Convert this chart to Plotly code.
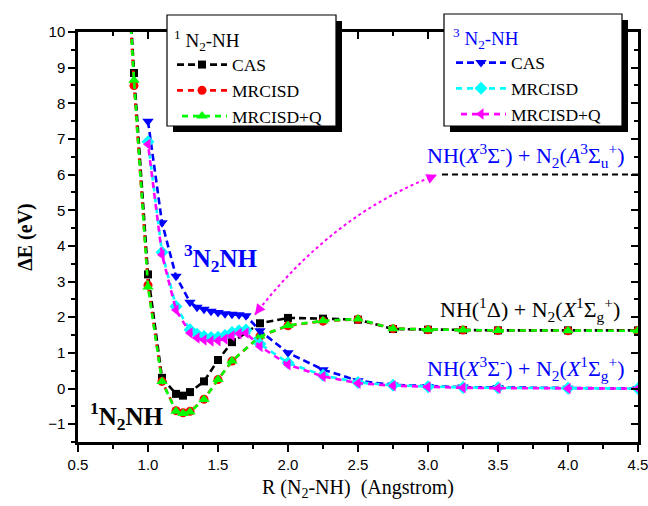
import plotly.graph_objects as go

# ---------------- data ----------------
R_singlet = [0.85, 0.9, 1.0, 1.1, 1.2, 1.25, 1.3, 1.4, 1.5, 1.6, 1.8, 2.0, 2.25, 2.5, 2.75, 3.0, 3.25, 3.5, 4.0, 4.5]
cas_singlet = [12.3, 8.85, 3.2, 0.3, -0.15, -0.2, -0.1, 0.2, 0.8, 1.3, 1.83, 1.98, 1.96, 1.93, 1.67, 1.65, 1.64, 1.63, 1.63, 1.63]
mrci_singlet = [12.0, 8.5, 2.9, 0.2, -0.62, -0.68, -0.64, -0.3, 0.25, 0.77, 1.47, 1.76, 1.89, 1.94, 1.68, 1.65, 1.64, 1.63, 1.62, 1.62]
mrciq_singlet = [12.1, 8.65, 2.85, 0.2, -0.64, -0.7, -0.66, -0.31, 0.25, 0.77, 1.47, 1.77, 1.9, 1.95, 1.68, 1.65, 1.64, 1.63, 1.62, 1.62]

R_triplet = [1.0, 1.1, 1.2, 1.3, 1.35, 1.4, 1.45, 1.5, 1.55, 1.6, 1.65, 1.7, 1.8, 2.0, 2.25, 2.5, 2.75, 3.0, 3.25, 3.5, 4.0, 4.5]
cas_triplet = [7.5, 4.65, 3.15, 2.42, 2.28, 2.22, 2.17, 2.13, 2.1, 2.08, 2.07, 2.04, 1.62, 1.0, 0.53, 0.22, 0.1, 0.06, 0.04, 0.03, 0.01, 0.0]
mrci_triplet = [6.92, 3.82, 2.3, 1.65, 1.52, 1.46, 1.43, 1.44, 1.49, 1.57, 1.62, 1.64, 1.25, 0.72, 0.37, 0.17, 0.09, 0.05, 0.03, 0.02, 0.01, 0.0]
mrciq_triplet = [6.85, 3.75, 2.2, 1.56, 1.42, 1.36, 1.33, 1.34, 1.39, 1.48, 1.54, 1.56, 1.18, 0.67, 0.34, 0.15, 0.08, 0.04, 0.02, 0.01, 0.0, 0.0]

method_labels = ["CAS", "MRCISD", "MRCISD+Q"]
x_range = [0.5, 4.5]
y_range = [-1.5, 10]
x_ticks = [0.5, 1.0, 1.5, 2.0, 2.5, 3.0, 3.5, 4.0, 4.5]
y_ticks = list(range(-1, 11))

# N2(A) asymptote level
asym_A = 6.0
asym_A_R = [3.1, 4.5]

# ---------------- figure ----------------
W, H = 648, 506
ML, MR, MT, MB = 78, 10, 32, 64
PW, PH = W - ML - MR, H - MT - MB

SERIF = "Liberation Serif"
SANS = "Liberation Sans"
BLUE = "#0000ff"

fig = go.Figure()

def add_series(x, y, name, color, symbol, size, dash, legend):
    fig.add_trace(go.Scatter(
        x=x, y=y, name=name, mode="lines+markers", legend=legend,
        line=dict(color=color, width=2.6, dash=dash),
        marker=dict(color=color, symbol=symbol, size=size, line=dict(width=0)),
        cliponaxis=True,
    ))

add_series(R_singlet, cas_singlet, method_labels[0], "#000000", "square", 8, "7px,4px", "legend")
add_series(R_singlet, mrci_singlet, method_labels[1], "#ff0000", "circle", 9, "6px,5px", "legend")
add_series(R_singlet, mrciq_singlet, method_labels[2], "#00ff00", "triangle-up", 10, "0px,5px,6px,0px", "legend")
add_series(R_triplet, cas_triplet, method_labels[0], BLUE, "triangle-down", 10, "7px,4px", "legend2")
add_series(R_triplet, mrci_triplet, method_labels[1], "#00ffff", "diamond", 10, "6px,5px", "legend2")
add_series(R_triplet, mrciq_triplet, method_labels[2], "#ff00ff", "triangle-left", 10, "0px,5px,6px,0px", "legend2")

# dummy trace for mirrored axes
fig.add_trace(go.Scatter(x=[None], y=[None], xaxis="x2", yaxis="y2", showlegend=False, hoverinfo="skip"))

axis_common = dict(showgrid=False, zeroline=False, showline=True, linecolor="black", linewidth=2.5,
                   tickcolor="black", tickwidth=2, ticklen=7)

fig.update_layout(
    width=W, height=H,
    font=dict(family=SERIF, size=18, color="black"),
    margin=dict(l=ML, r=MR, t=MT, b=MB, pad=0, autoexpand=False),
    paper_bgcolor="white", plot_bgcolor="white",
    showlegend=True,
    xaxis=dict(range=x_range, tickvals=x_ticks, ticktext=[f"{v:.1f}" for v in x_ticks], ticks="outside",
               ticklabeloverflow="allow",
               minor=dict(dtick=0.25, ticklen=4, tickwidth=2, tickcolor="black", ticks="outside"),
               tickfont=dict(family=SANS, size=15, color="black"),
               title=dict(text="R (N<sub>2</sub>-NH)\u00a0\u00a0(Angstrom)", font=dict(family=SERIF, size=20, color="black"), standoff=9),
               **axis_common),
    yaxis=dict(range=y_range, tickvals=y_ticks, ticks="outside",
               ticklabeloverflow="allow",
               minor=dict(dtick=0.5, ticklen=4, tickwidth=2, tickcolor="black", ticks="outside"),
               tickfont=dict(family=SANS, size=15, color="black"),
               title=dict(text="<b>ΔE (eV)</b>", font=dict(family=SERIF, size=20, color="black"), standoff=11),
               **axis_common),
    xaxis2=dict(range=x_range, overlaying="x", side="top", anchor="y2", tickvals=x_ticks, ticks="inside",
                showticklabels=False,
                minor=dict(dtick=0.25, ticklen=4, tickwidth=2, tickcolor="black", ticks="inside"),
                **axis_common),
    yaxis2=dict(range=y_range, overlaying="y", side="right", anchor="x2", tickvals=y_ticks, ticks="inside",
                showticklabels=False,
                minor=dict(dtick=0.5, ticklen=4, tickwidth=2, tickcolor="black", ticks="inside"),
                **axis_common),
)

def px2paper(px, py):
    return (px - ML) / PW, (MT + PH - py) / PH

# legend boxes with shadows
def legend_box(x0, y0, x1, y1, off=6):
    a0, b0 = px2paper(x0 + off, y0 + off)
    a1, b1 = px2paper(x1 + off, y1 + off)
    fig.add_shape(type="rect", xref="paper", yref="paper", x0=a0, y0=b1, x1=a1, y1=b0,
                  fillcolor="black", line=dict(width=0), layer="above")
    a0, b0 = px2paper(x0, y0)
    a1, b1 = px2paper(x1, y1)
    fig.add_shape(type="rect", xref="paper", yref="paper", x0=a0, y0=b1, x1=a1, y1=b0,
                  fillcolor="white", line=dict(color="black", width=1.2), layer="above")

legend_box(167, 15, 336, 126)
legend_box(444, 14, 622, 126)

leg_font = dict(family=SERIF, size=17.5, color="black")
leg_common = dict(xref="paper", yref="paper", xanchor="left", yanchor="top",
                  bgcolor="rgba(0,0,0,0)", borderwidth=0, itemwidth=50, tracegroupgap=0,
                  font=leg_font)
lx1, ly1 = px2paper(172, 22)
lx2, ly2 = px2paper(451, 20)
fig.update_layout(
    legend=dict(x=lx1, y=ly1,
                title=dict(text="<sup>1</sup> N<sub>2</sub>-NH", font=dict(family=SERIF, size=19, color="black")),
                **leg_common),
    legend2=dict(x=lx2, y=ly2,
                 title=dict(text="<sup>3</sup> N<sub>2</sub>-NH", font=dict(family=SERIF, size=19, color=BLUE)),
                 **leg_common),
)

# asymptote line for N2(A) state
fig.add_shape(type="line", xref="x", yref="y", x0=asym_A_R[0], x1=asym_A_R[1], y0=asym_A, y1=asym_A,
              line=dict(color="black", width=2, dash="6px,4px"))

# curved dotted double arrow
p0 = (1.764, 2.07)
c = (2.318, 4.90)
p1 = (3.064, 5.994)
fig.add_shape(type="path", xref="x", yref="y",
              path=f"M {p0[0]},{p0[1]} Q {c[0]},{c[1]} {p1[0]},{p1[1]}",
              line=dict(color="#ff00ff", width=2, dash="dot"))
for (tx, ty, ax, ay) in [(p1[0], p1[1], -9, 4), (p0[0], p0[1], 6, -8)]:
    fig.add_annotation(x=tx, y=ty, xref="x", yref="y", text="", showarrow=True, ax=ax, ay=ay,
                       arrowhead=2, arrowsize=1.3, arrowwidth=1.6, arrowcolor="#ff00ff")

# text labels
labels = [
    (3.70, 6.55, "NH(<i>X</i><sup>3</sup>Σ<sup>-</sup>) + N<sub>2</sub>(<i>A</i><sup>3</sup>Σ<sub>u</sub><sup>+</sup>)", BLUE, 22),
    (3.73, 2.21, "NH(<sup>1</sup>Δ) + N<sub>2</sub>(<i>X</i><sup>1</sup>Σ<sub>g</sub><sup>+</sup>)", "black", 22),
    (3.70, 0.56, "NH(<i>X</i><sup>3</sup>Σ<sup>-</sup>) + N<sub>2</sub>(<i>X</i><sup>1</sup>Σ<sub>g</sub><sup>+</sup>)", BLUE, 22),
    (1.52, 3.67, "<b><sup>3</sup>N<sub>2</sub>NH</b>", BLUE, 25),
    (0.85, -0.76, "<b><sup>1</sup>N<sub>2</sub>NH</b>", "black", 25),
]
for x, y, t, col, sz in labels:
    fig.add_annotation(x=x, y=y, xref="x", yref="y", text=t, showarrow=False,
                       font=dict(family=SERIF, size=sz, color=col), xanchor="center", yanchor="middle")

fig.write_html("out.html")
